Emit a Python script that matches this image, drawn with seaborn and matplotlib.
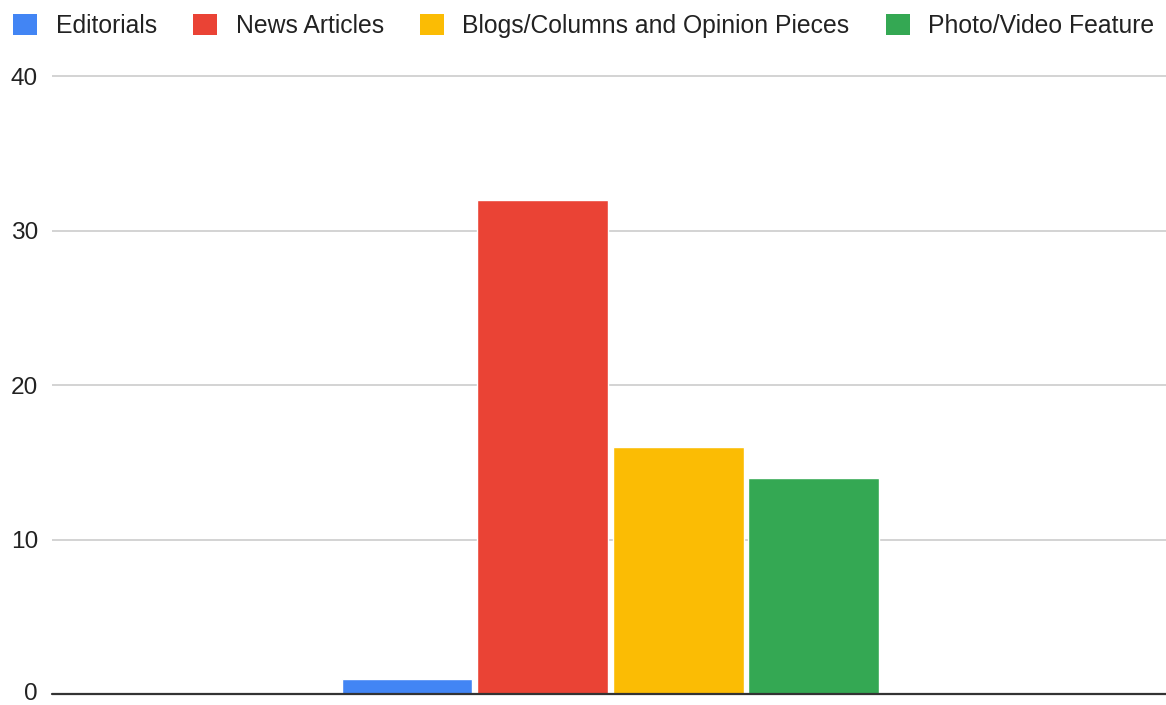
import matplotlib
matplotlib.use("Agg")
import matplotlib.pyplot as plt
import matplotlib.transforms as mtransforms
import seaborn as sns
import pandas as pd
from matplotlib.patches import Patch

series = ["Editorials", "News Articles", "Blogs/Columns and Opinion Pieces", "Photo/Video Feature"]
values = [1, 32, 16, 14]
colors = ["#4285F4", "#EA4335", "#FBBC04", "#34A853"]
yticks = [0, 10, 20, 30, 40]

sns.set_theme(style="white")
plt.rcParams['font.family'] = ['Liberation Sans', 'DejaVu Sans']

W, H = 1166, 705
fig = plt.figure(figsize=(W / 100, H / 100), dpi=100)
left, right, top, bottom = 52, 1166, 74.5, 694
ax = fig.add_axes([left / W, 1 - bottom / H, (right - left) / W, (bottom - top) / H])

df = pd.DataFrame({"cat": [""] * len(series), "series": series, "value": values})
sns.barplot(data=df, x="cat", y="value", hue="series", hue_order=series,
            palette=colors, width=0.487, gap=0.035, ax=ax, legend=False,
            saturation=1)

ax.set_xlim(-0.5 - 0.0013, 0.5 - 0.0013)
ax.set_ylim(0, 40.1)
ax.set_yticks(yticks)
ax.set_yticklabels([str(t) for t in yticks], fontsize=17.6, color="#222222")
ax.set_xticks([])
ax.set_xlabel("")
ax.set_ylabel("")
ax.tick_params(axis="y", length=0, pad=10)
for s in ax.spines.values():
    s.set_visible(False)
ax.yaxis.grid(True, color="#cccccc", linewidth=1.2)
ax.set_axisbelow(True)
ax.axhline(0, color="#333333", linewidth=1.6, clip_on=False, zorder=5)

# nudge the "0" label up a touch so it is not clipped at the bottom edge
lbl0 = ax.get_yticklabels()[0]
lbl0.set_transform(lbl0.get_transform() + mtransforms.ScaledTranslation(0, 2 / 100, fig.dpi_scale_trans))

handles = [Patch(facecolor=c, edgecolor="none", label=s) for s, c in zip(series, colors)]
fig.legend(handles=handles, loc="center left", bbox_to_anchor=(13 / W, 1 - 26 / H),
           ncol=4, frameon=False, fontsize=17.8, handlelength=0.97, handleheight=0.97,
           handletextpad=0.75, columnspacing=1.47, borderpad=0, borderaxespad=0,
           labelcolor="#222222")

fig.savefig("out.png", dpi=100)
